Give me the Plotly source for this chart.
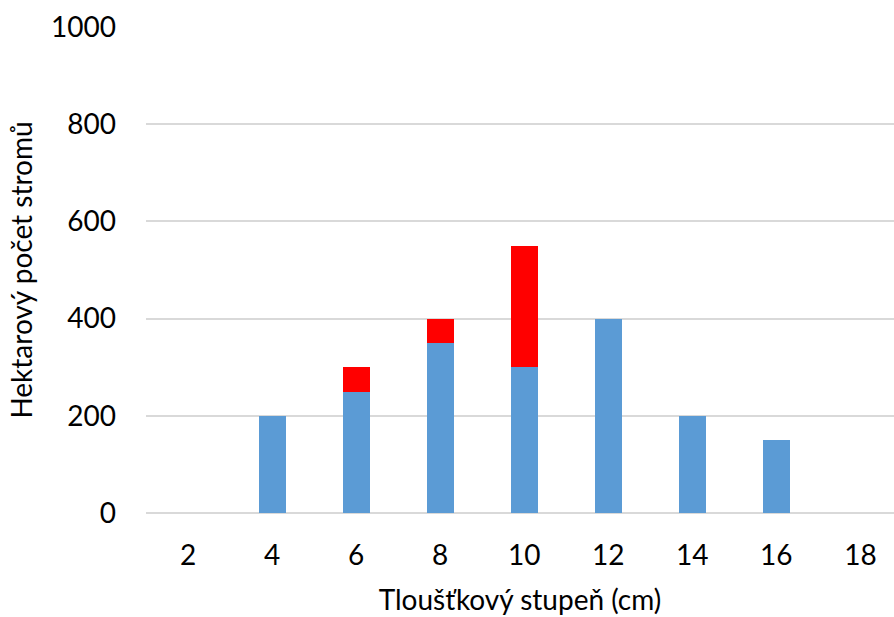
import plotly.graph_objects as go

# Diameter classes (cm) and hectare tree counts per class
stupne = ["2", "4", "6", "8", "10", "12", "14", "16", "18"]
modra = [0, 200, 250, 350, 300, 400, 200, 150, 0]
cervena = [0, 0, 50, 50, 250, 0, 0, 0, 0]
y_ticks = [0, 200, 400, 600, 800, 1000]

FONT = "Lato, Open Sans, sans-serif"

fig = go.Figure()
fig.add_trace(go.Bar(x=stupne, y=modra, marker=dict(color="#5B9BD5", line=dict(width=0)),
                     showlegend=False))
fig.add_trace(go.Bar(x=stupne, y=cervena, marker=dict(color="#FF0000", line=dict(width=0)),
                     showlegend=False))

fig.update_layout(
    width=894, height=617,
    barmode="stack", bargap=0.68,
    plot_bgcolor="white", paper_bgcolor="white",
    margin=dict(l=146, r=0, t=27, b=104),
    font=dict(family=FONT, size=28, color="#000000"),
    xaxis=dict(
        type="category", range=[-0.5, 8.4],
        showgrid=False, showline=False, zeroline=False,
        ticks="", tickfont=dict(size=28), ticklabelstandoff=23,
        title=dict(text="Tloušťkový stupeň (cm)", font=dict(size=28), standoff=20),
    ),
    yaxis=dict(
        range=[0, 1000], tickvals=y_ticks,
        showgrid=True, gridcolor="#D9D9D9", gridwidth=1.5,
        zeroline=True, zerolinecolor="#D9D9D9", zerolinewidth=1.5,
        showline=False, ticks="", ticklabelstandoff=29,
        tickfont=dict(size=28),
        title=dict(text="Hektarový počet stromů", font=dict(size=28), standoff=10),
    ),
)

fig.write_html("out.html")
